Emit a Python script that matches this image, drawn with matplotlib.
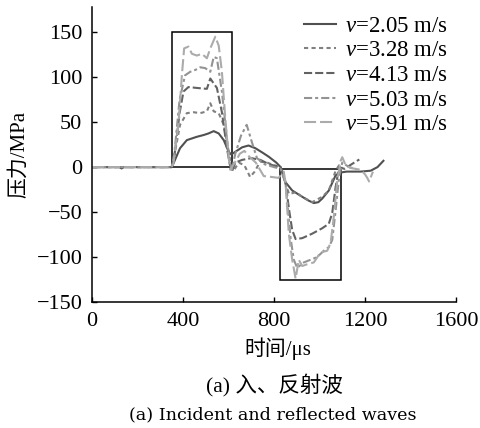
import matplotlib
matplotlib.use("Agg")
import matplotlib.pyplot as plt
from matplotlib.patches import Rectangle

plt.rcParams['font.family'] = ['Liberation Serif', 'Noto Sans CJK SC']
plt.rcParams['mathtext.fontset'] = 'custom'
plt.rcParams['mathtext.it'] = 'Liberation Serif:italic'
plt.rcParams['mathtext.rm'] = 'Liberation Serif'

labels = ["$v$=2.05 m/s", "$v$=3.28 m/s", "$v$=4.13 m/s", "$v$=5.03 m/s", "$v$=5.91 m/s"]

t_205 = [0, 120, 130, 140, 350, 358, 387, 417, 461, 490, 512, 535, 557, 579, 601, 612, 630, 660, 688, 718, 750, 777, 810, 829, 851, 880, 924, 950, 975, 995, 1012, 1041, 1071, 1093, 1120, 1150, 1181, 1225, 1255, 1281]
p_205 = [0, 0, -1.5, 0, 0, 4, 21, 30, 33.7, 35.6, 37.4, 40, 37.4, 30, 17, 14, 17, 22, 24, 21, 16, 11.5, 5, 0, -17, -26, -33, -37, -40, -39, -35, -26, -9, -6, -5, -5, -5, -4, 0, 7]

t_328 = [0, 350, 360, 387, 417, 446, 476, 505, 520, 535, 557, 579, 601, 612, 625, 645, 670, 695, 715, 739, 770, 800, 829, 851, 866, 895, 924, 968, 1012, 1041, 1071, 1086, 1100]
p_328 = [0, 0, 10, 47, 60, 61, 60, 62, 71, 62, 60, 47, 17, 0, -3, 5, 2, -11, -5, 6, 5, 2, 0, -18, -30, -28, -33, -39, -33, -26, -4, 2, 0]

t_413 = [0, 350, 362, 385, 402, 424, 461, 505, 520, 535, 549, 571, 593, 608, 615, 630, 660, 700, 740, 780, 829, 851, 866, 880, 895, 924, 968, 1012, 1041, 1056, 1071, 1086, 1110, 1140, 1175]
p_413 = [0, 0, 12, 60, 84, 89, 88, 87, 98.5, 93, 88, 61, 21, 0, -5, 5, 8, 10, 8, 3, 0, -18, -47, -70, -80, -79, -74, -68, -63, -51, -22, 0, -2, 3, 8.5]

t_503 = [0, 350, 362, 385, 409, 432, 454, 476, 498, 520, 535, 549, 571, 593, 606, 615, 630, 655, 680, 700, 725, 760, 800, 829, 851, 873, 887, 902, 931, 961, 990, 1019, 1041, 1056, 1071, 1086, 1100, 1130, 1160]
p_503 = [0, 0, 15, 75, 102, 106, 108, 111, 110, 106, 122.6, 121, 84, 32, 5, -3, 15, 35, 47, 30, 10, 3, 0, -2, -18, -79, -103, -112, -106, -103, -100, -93, -89, -81, -48, -11, 5, 0, -2]

t_591 = [0, 350, 358, 380, 395, 405, 424, 439, 461, 483, 505, 520, 542, 557, 571, 586, 601, 608, 620, 635, 650, 670, 690, 720, 755, 790, 820, 843, 851, 865, 880, 895, 909, 924, 946, 975, 1004, 1034, 1049, 1063, 1078, 1093, 1100, 1115, 1137, 1181, 1200, 1210, 1218, 1235]
p_591 = [0, 0, 4, 47, 102, 132, 134, 126, 124, 126, 121, 132, 145, 135, 106, 54, 10, -3, 2, 8, 15, 18, 12, 5, -10, -11, -12, -5, -18, -74, -103, -124, -103, -110, -108, -106, -95, -93, -84, -55, -15, 7, 11, 2, -1, -3, -8, -12, -16, -5]

box_x = [350, 615, 825, 1095]
box_y = [0, 150, -126, -2]

xticks = [0, 400, 800, 1200, 1600]
yticks = [-150, -100, -50, 0, 50, 100, 150]

fig = plt.figure(figsize=(4.8, 4.28), dpi=100)
ax = fig.add_axes([92/480, 1-302/428, (456-92)/480, (302-7)/428])

series = [(t_205, p_205, '#505050', '-'),
          (t_328, p_328, '#808080', (0, (2, 1.6))),
          (t_413, p_413, '#626262', (0, (3.9, 1.45))),
          (t_503, p_503, '#939393', (0, (3.9, 1.45, 1.45, 1.45))),
          (t_591, p_591, '#ababab', (0, (5.8, 1.9)))]
for (t, p, c, ls), lab in zip(series, labels):
    ax.plot(t, p, color=c, linestyle=ls, lw=1.5, label=lab)

ax.add_patch(Rectangle((box_x[0], box_y[0]), box_x[1]-box_x[0], box_y[1]-box_y[0], fill=False, ec='black', lw=1.1))
ax.add_patch(Rectangle((box_x[2], box_y[2]), box_x[3]-box_x[2], box_y[3]-box_y[2], fill=False, ec='black', lw=1.1))

ax.set_xlim(0, 1600)
ax.set_ylim(-150, 178)
ax.set_xticks(xticks)
ax.set_yticks(yticks)
ax.set_yticklabels([str(v).replace('-', '\u2212') for v in yticks])
ax.tick_params(direction='in', length=3.5, width=1, labelsize=16, pad=7)
for s in ['top', 'right']:
    ax.spines[s].set_visible(False)
for s in ['left', 'bottom']:
    ax.spines[s].set_linewidth(1.1)

leg = ax.legend(loc='upper right', bbox_to_anchor=(1.01, 1.01), frameon=False, fontsize=16.5,
                handlelength=1.4, handletextpad=0.4, labelspacing=0.16, borderaxespad=0.1)

fig.text(19/480, 1-154/428, "压力/MPa", rotation=90, ha='center', va='center', fontsize=15)
fig.text(278/480, 1-349/428, "时间/μs", ha='center', va='center', fontsize=15)
fig.text(274/480, 1-385/428, "(a) 入、反射波", ha='center', va='center', fontsize=15.5)
fig.text(273/480, 1-415/428, "(a) Incident and reflected waves", ha='center', va='center', fontsize=12.6,
         family=['DejaVu Serif'])

fig.savefig("out.png", dpi=100)
